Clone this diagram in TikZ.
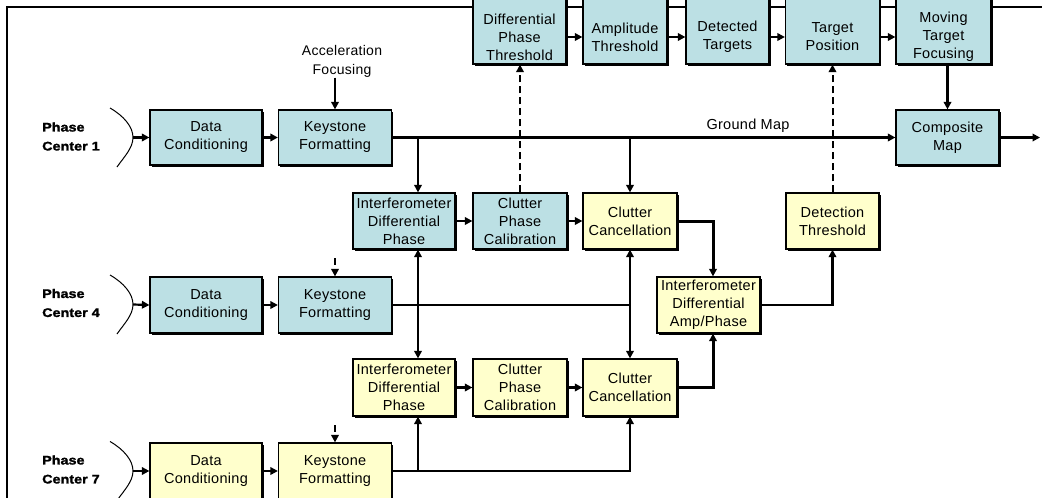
\documentclass[tikz,border=0pt]{standalone}
\usepackage{fontspec}
\setmainfont[LetterSpace=2]{Liberation Sans}
\newfontfamily\pcfont[FakeStretch=1.15,FakeBold=1.6]{Liberation Sans}
\usetikzlibrary{arrows.meta,shadows}
\definecolor{tealc}{RGB}{188,224,228}
\definecolor{yelc}{RGB}{255,255,204}
\newcommand\boxfont{\fontsize{14.5}{18}\selectfont}
\tikzset{
  x=1pt,y=-1pt,
  box/.style={draw=black,line width=1.2pt,inner sep=0pt,align=center,font=\boxfont,
    drop shadow={shadow xshift=1.6pt,shadow yshift=-1.6pt,fill=black,opacity=1}},
  tealbox/.style={box,fill=tealc},
  yelbox/.style={box,fill=yelc},
  txt/.style={inner sep=0pt,align=center,font=\boxfont},
  pclabel/.style={inner sep=0pt,align=left,anchor=west,font=\pcfont\bfseries\fontsize{12.5}{19}\selectfont},
  tip/.style={-{Triangle[length=7.5pt,width=7.5pt]}},
  arr/.style={line width=2.2pt,tip},
  thk/.style={line width=3pt,tip},
  both/.style={line width=2.2pt,{Triangle[length=7.5pt,width=7.5pt]}-{Triangle[length=7.5pt,width=7.5pt]}},
  darr/.style={line width=2pt,dash pattern=on 7pt off 4pt,tip},
  plain/.style={line width=2.2pt},
  curve/.style={line width=1pt},
}
\begin{document}
\begin{tikzpicture}
\useasboundingbox (0,0) rectangle (1042,498);
\clip (0,0) rectangle (1042,498);
% frame
\draw[line width=2pt] (7,520) -- (7,7) -- (1060,7);
% reference coordinate for the interferometer column
\coordinate (vx) at (418,0);
% top row
\node[tealbox,minimum width=93,minimum height=67] (dpt) at (519.5,30.5) {};
\node[txt] (dptt) at (519.5,37) {Differential\\Phase\\Threshold};
\node[tealbox,minimum width=84,minimum height=67] (at) at (625,30.5) {};
\node[txt] (att) at (625,37) {Amplitude\\Threshold};
\node[tealbox,minimum width=83,minimum height=67] (dt) at (727.5,30.5) {};
\node[txt] (dtt) at (727.5,37) {Detected\\Targets};
\node[tealbox,minimum width=94,minimum height=67] (tp) at (832.5,30.5) {};
\node[txt] (tpt) at (832.5,37) {Target\\Position};
\node[tealbox,minimum width=95,minimum height=67] (mtf) at (943.5,30.5) {};
\node[txt] (mtft) at (943.5,37) {Moving\\Target\\Focusing};
% phase center rows
\node[tealbox,minimum width=112,minimum height=55] (dc1) at (206,137.5) {Data\\Conditioning};
\node[tealbox,minimum width=113,minimum height=55] (kf1) at (335,137.5) {Keystone\\Formatting};
\node[tealbox,minimum width=103,minimum height=55] (cm) at (947.5,137.5) {Composite\\Map};
\node[tealbox,minimum width=112,minimum height=56] (dc4) at (206,305) {Data\\Conditioning};
\node[tealbox,minimum width=113,minimum height=56] (kf4) at (335,305) {Keystone\\Formatting};
\node[yelbox,minimum width=112,minimum height=56] (dc7) at (206,471) {Data\\Conditioning};
\node[yelbox,minimum width=113,minimum height=56] (kf7) at (335,471) {Keystone\\Formatting};
% processing boxes
\node[tealbox,minimum width=102,minimum height=56] (idp1) at (404,221) {Interferometer\\Differential\\Phase};
\node[tealbox,minimum width=94,minimum height=56] (cpc1) at (520,221) {Clutter\\Phase\\Calibration};
\node[yelbox,minimum width=94,minimum height=56] (cc1) at (630,221) {Clutter\\Cancellation};
\node[yelbox,minimum width=93,minimum height=56] (dth) at (832.5,221) {Detection\\Threshold};
\node[yelbox,minimum width=103,minimum height=56] (idap) at (708.5,305) {Interferometer\\Differential\\Amp/Phase};
\node[yelbox,minimum width=102,minimum height=57] (idp2) at (404,387.5) {Interferometer\\Differential\\Phase};
\node[yelbox,minimum width=94,minimum height=57] (cpc2) at (520,387.5) {Clutter\\Phase\\Calibration};
\node[yelbox,minimum width=94,minimum height=57] (cc2) at (630,387.5) {Clutter\\Cancellation};
% labels
\node[txt,font=\fontsize{14}{19}\selectfont] (acc) at (342,61.5) {Acceleration\\Focusing};
\node[txt] (gm) at (748,126) {Ground Map};
\node[pclabel] (pc1) at (42,136.5) {Phase\\Center 1};
\node[pclabel] (pc4) at (42,303) {Phase\\Center 4};
\node[pclabel] (pc7) at (42,469.5) {Phase\\Center 7};
% wavefront curves
\foreach \dy/\r in {0/1,167/4,333.5/7}{
  \draw[curve] (110,108+\dy) .. controls (124,116+\dy) and (133,127+\dy) .. (133,137.5+\dy)
     coordinate (ph\r) .. controls (133,148+\dy) and (124,157+\dy) .. (117,167+\dy);
}
\draw[arr] (ph1) -- (dc1.west);
\draw[arr] (ph4) -- (dc4.west);
\draw[arr] (ph7) -- (dc7.west);
\draw[arr] (dc1) -- (kf1);
\draw[arr] (dc4) -- (kf4);
\draw[arr] (dc7) -- (kf7);
% inputs to keystone
\draw[arr] (acc.south -| kf1.north) -- (kf1.north);
\coordinate (k4in) at (335,258);
\coordinate (k7in) at (335,425);
\draw[darr] (k4in) -- (kf4.north);
\draw[darr] (k7in) -- (kf7.north);
% ground map
\draw[line width=2.6pt,tip] (kf1.east) -- (cm.west);
\draw[arr] (kf1.east -| vx) -- (idp1.north -| vx);
\draw[arr] (kf1.east -| cc1.north) -- (cc1.north);
\coordinate (out) at (1040,137.5);
\draw[arr] (cm.east) -- (out);
% top row chain
\draw[arr] (dpt.east |- dptt) -- (at.west |- dptt);
\draw[arr] (at.east |- dptt) -- (dt.west |- dptt);
\draw[arr] (dt.east |- dptt) -- (tp.west |- dptt);
\draw[arr] (tp.east |- dptt) -- (mtf.west |- dptt);
\draw[arr] (mtf.south -| cm.north) -- (cm.north);
% dashed to top row
\draw[darr] (cpc1.north) -- (cpc1.north |- dpt.south);
\draw[darr] (dth.north) -- (dth.north |- tp.south);
% interferometer row 1
\draw[arr] (idp1) -- (cpc1);
\draw[arr] (cpc1) -- (cc1);
\draw[thk] (cc1.east) -| ([xshift=4.5pt]idap.north);
\draw[arr] (idap.east) -| (dth.south);
% phase center 4 distribution
\draw[plain] (kf4.east) -- (kf4.east -| cc1.south);
\draw[both] (idp1.south -| vx) -- (idp2.north -| vx);
\draw[both] (cc1.south) -- (cc2.north);
% interferometer row 2
\draw[arr] (idp2) -- (cpc2);
\draw[arr] (cpc2) -- (cc2);
\draw[thk] (cc2.east) -| ([xshift=4.5pt]idap.south);
% phase center 7 distribution
\draw[arr] (kf7.east) -| (cc2.south);
\draw[arr] (kf7.east -| vx) -- (idp2.south -| vx);
\end{tikzpicture}
\end{document}
